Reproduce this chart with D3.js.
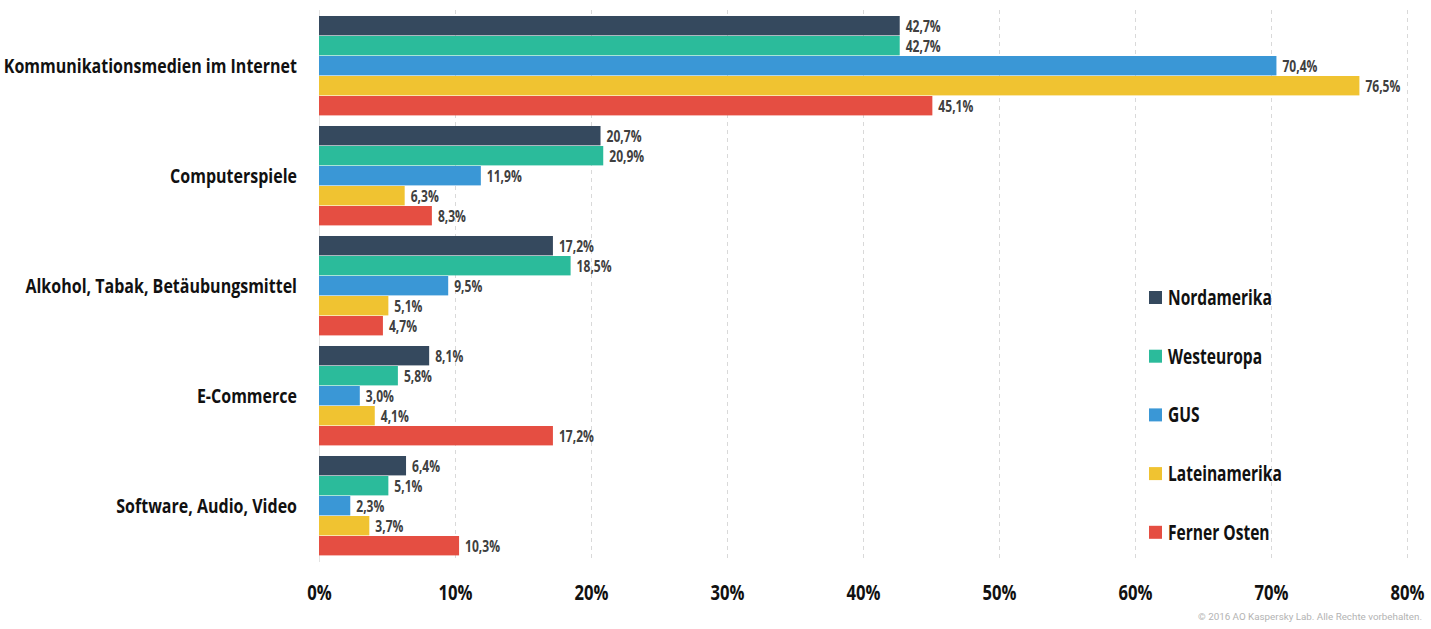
<!DOCTYPE html>
<html>
<head>
<meta charset="utf-8">
<script src="https://cdn.jsdelivr.net/npm/d3@7/dist/d3.min.js"></script>
<style>
  html, body { margin: 0; padding: 0; background: #fff; }
  svg { display: block; }
  .cond { font-family: "Open Sans", "Noto Sans", "DejaVu Sans", sans-serif; font-weight: bold; }
</style>
</head>
<body>
<svg id="chart" width="1431" height="629"></svg>
<script>
const categories = [
  "Kommunikationsmedien im Internet",
  "Computerspiele",
  "Alkohol, Tabak, Betäubungsmittel",
  "E-Commerce",
  "Software, Audio, Video"
];
const seriesNames = ["Nordamerika", "Westeuropa", "GUS", "Lateinamerika", "Ferner Osten"];
const seriesColors = ["#35495e", "#2bbb9b", "#3a97d6", "#f0c331", "#e54e42"];
const nordamerika  = [42.7, 20.7, 17.2, 8.1, 6.4];
const westeuropa   = [42.7, 20.9, 18.5, 5.8, 5.1];
const gus          = [70.4, 11.9, 9.5, 3.0, 2.3];
const lateinamerika= [76.5, 6.3, 5.1, 4.1, 3.7];
const fernerOsten  = [45.1, 8.3, 4.7, 17.2, 10.3];
const seriesValues = [nordamerika, westeuropa, gus, lateinamerika, fernerOsten];
const xTicks = [0, 10, 20, 30, 40, 50, 60, 70, 80];
const copyright = "© 2016 AO Kaspersky Lab. Alle Rechte vorbehalten.";

const svg = d3.select("#chart");
const fmt = v => v.toFixed(1).replace(".", ",") + "%";

// horizontal condensing factor so the available fonts mimic a condensed face
function squeezeFactor(sample, size, target) {
  const t = svg.append("text").attr("class", "cond").attr("font-size", size).text(sample);
  const w = t.node().getComputedTextLength();
  t.remove();
  return w > 0 ? target / w : 1;
}
function squeeze(sel, k) {
  sel.each(function () {
    const t = d3.select(this);
    const px = +t.attr("x") || 0, py = +t.attr("y") || 0;
    t.attr("x", 0).attr("y", 0).attr("transform", `translate(${px},${py}) scale(${k},1)`);
  });
}
const kCat = squeezeFactor("Computerspiele", 20, 127);
const kVal = squeezeFactor("42,7%", 16.5, 35);
const kTick = squeezeFactor("10%", 21, 34);
const kLeg = squeezeFactor("Nordamerika", 21, 104);

const x = d3.scaleLinear().domain([0, 80]).range([319, 1407]);
const y0 = d3.scaleBand().domain(categories).range([16, 556]).paddingInner(10 / 110).paddingOuter(0);
const y1 = d3.scaleBand().domain(seriesNames).range([0, y0.bandwidth()]).padding(0);

// gridlines
const grid = svg.append("g");
grid.selectAll("line.grid").data(xTicks.filter(t => t > 0)).join("line")
  .attr("x1", d => x(d) + 0.5).attr("x2", d => x(d) + 0.5)
  .attr("y1", 10).attr("y2", 562)
  .attr("stroke", "#d9d9d9").attr("stroke-width", 1).attr("stroke-dasharray", "4,4");
grid.append("line")
  .attr("x1", x(0) + 0.5).attr("x2", x(0) + 0.5).attr("y1", 10).attr("y2", 562)
  .attr("stroke", "#e3e3e3").attr("stroke-width", 1);

// bars
const groups = svg.append("g").selectAll("g").data(categories).join("g")
  .attr("transform", d => `translate(0,${y0(d)})`);

groups.each(function (cat, ci) {
  const g = d3.select(this);
  const rows = seriesNames.map((s, si) => ({ s, si, v: seriesValues[si][ci] }));
  g.selectAll("rect").data(rows).join("rect")
    .attr("x", x(0))
    .attr("y", d => y1(d.s))
    .attr("width", d => x(d.v) - x(0))
    .attr("height", y1.bandwidth() - 0.6)
    .attr("fill", d => seriesColors[d.si]);
  g.selectAll("text").data(rows).join("text")
    .attr("class", "cond")
    .attr("x", d => x(d.v) + 6)
    .attr("y", d => y1(d.s) + y1.bandwidth() / 2)
    .attr("dy", "0.37em")
    .attr("font-size", 16.5)
    .attr("fill", "#404040")
    .text(d => fmt(d.v))
    .call(squeeze, kVal);
});

// category labels
svg.append("g").selectAll("text").data(categories).join("text")
  .attr("class", "cond")
  .attr("x", 297)
  .attr("y", d => y0(d) + y0.bandwidth() / 2)
  .attr("dy", "0.36em")
  .attr("text-anchor", "end")
  .attr("font-size", 20)
  .attr("fill", "#111")
  .text(d => d)
  .call(squeeze, kCat);

// x axis
const xAxis = d3.axisBottom(x).tickValues(xTicks).tickFormat(d => d + "%").tickSize(0).tickPadding(0);
const ax = svg.append("g").attr("transform", "translate(0,584)").call(xAxis);
ax.select(".domain").remove();
ax.selectAll("text").attr("class", "cond").attr("font-family", null).attr("font-size", 21)
  .attr("fill", "#111").attr("dy", "0.74em")
  .call(squeeze, kTick);

// legend
const legend = svg.append("g").selectAll("g").data(seriesNames).join("g")
  .attr("transform", (d, i) => `translate(1149,${291 + i * 58.7})`);
legend.append("rect").attr("width", 13).attr("height", 13).attr("fill", (d, i) => seriesColors[i]);
legend.append("text").attr("class", "cond")
  .attr("x", 19).attr("y", 6.5).attr("dy", "0.36em")
  .attr("font-size", 21).attr("fill", "#111").text(d => d)
  .call(squeeze, kLeg);

// copyright
svg.append("text")
  .attr("x", 1422).attr("y", 620).attr("text-anchor", "end")
  .attr("font-family", "Roboto, 'Open Sans', sans-serif")
  .attr("font-size", 9.8).attr("fill", "#b3b3b3")
  .text(copyright);
</script>
</body>
</html>
